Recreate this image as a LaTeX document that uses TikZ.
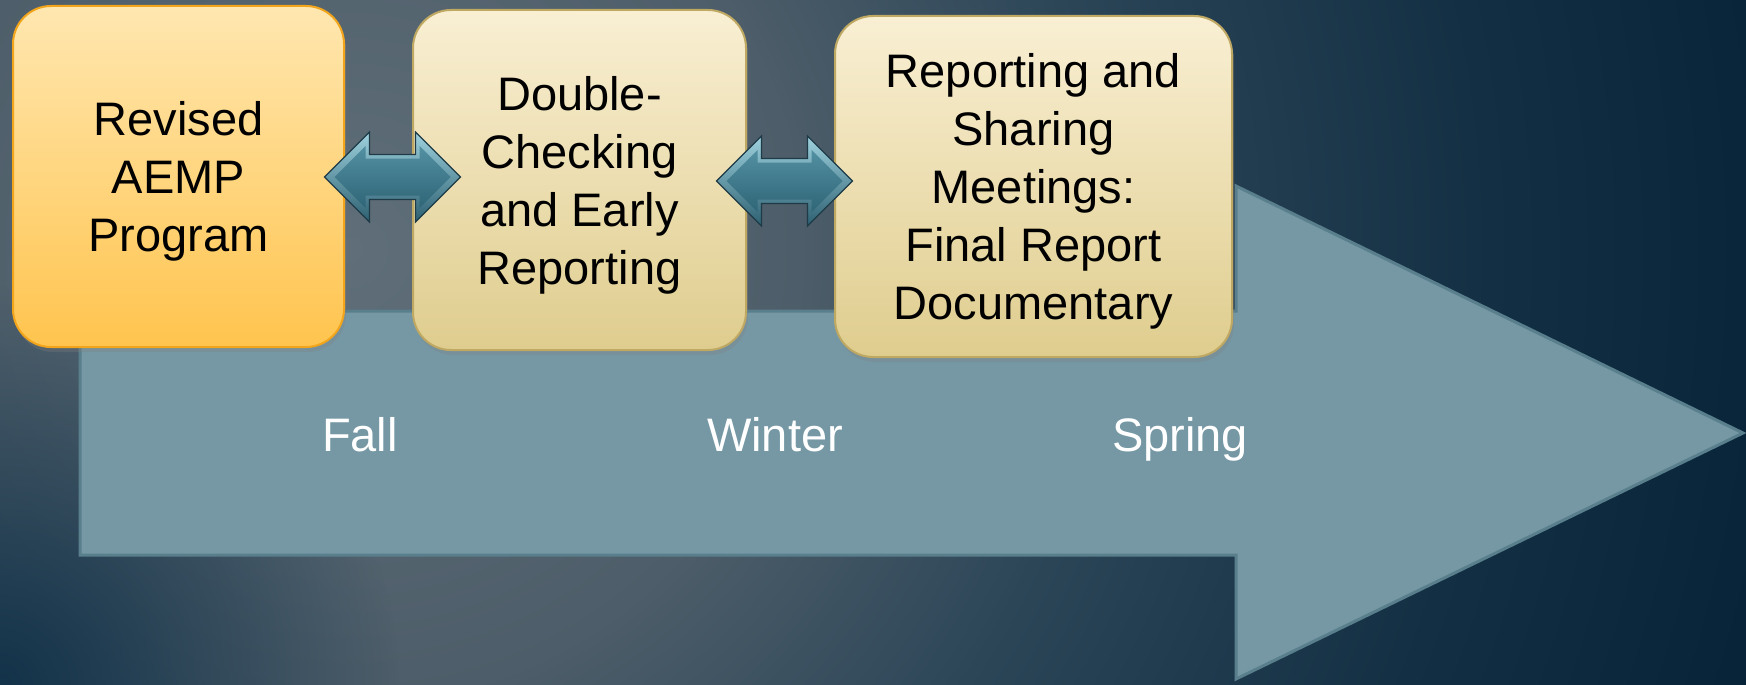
\documentclass[tikz,border=0pt]{standalone}
\usepackage{fontspec}
\setmainfont{Liberation Sans}
\usetikzlibrary{shadows,fadings}
\definecolor{bgA}{HTML}{5F6E78}
\definecolor{bgB}{HTML}{4D5D69}
\definecolor{bgC}{HTML}{2C4658}
\definecolor{bgD}{HTML}{132F43}
\definecolor{bgE}{HTML}{052237}
\definecolor{bgCorner}{HTML}{13334A}
\definecolor{bigFill}{HTML}{7598A4}
\definecolor{bigEdge}{HTML}{5A7F8C}
\definecolor{orTop}{HTML}{FFE7B0}
\definecolor{orBot}{HTML}{FFC44E}
\definecolor{orLine}{HTML}{F2A51A}
\definecolor{beTop}{HTML}{F9EFD3}
\definecolor{beBot}{HTML}{DFCD8E}
\definecolor{beLine}{HTML}{BFA862}
\definecolor{arHi}{HTML}{9FD2DE}
\definecolor{arLo}{HTML}{2C5F70}
\definecolor{arEdge}{HTML}{1E3B47}
\definecolor{arInTop}{HTML}{5290A2}
\definecolor{arInBot}{HTML}{2F6577}
\pgfdeclareradialshading{bgshade}{\pgfpoint{0bp}{0bp}}{color(0bp)=(bgA); color(7.5bp)=(bgB); color(12.5bp)=(bgC); color(19bp)=(bgD); color(25bp)=(bgE); color(50bp)=(bgE)}
\tikzfading[name=cornerfade, inner color=transparent!0, outer color=transparent!100]
\newcommand\boxstrut{\rule{0pt}{44pt}}
\tikzset{
  box/.style={rounded corners=38pt, align=center, inner sep=0pt,
    font={\fontsize{47}{58}\selectfont}, text=black, line width=2pt,
    drop shadow={opacity=0.3, shadow xshift=2pt, shadow yshift=-5pt}},
  orangebox/.style={box, draw=orLine, top color=orTop, bottom color=orBot},
  beigebox/.style={box, draw=beLine, top color=beTop, bottom color=beBot},
  season/.style={font={\fontsize{47}{58}\selectfont}, text=white, anchor=base, inner sep=0pt},
  bigarrow/.style={fill=bigFill, draw=bigEdge, line width=3pt, line join=miter},
  dblarrow/.pic={
    \shade[top color=arHi, bottom color=arLo, draw=arEdge, line width=1.2pt]
      (-68,0) -- (-23,-45) -- (-23,-22.5) -- (23,-22.5) -- (23,-45) -- (68,0)
      -- (23,45) -- (23,22.5) -- (-23,22.5) -- (-23,45) -- cycle;
    \shade[top color=arInTop, bottom color=arInBot]
      (-58,0) -- (-27,-31) -- (-27,-18.5) -- (27,-18.5) -- (27,-31) -- (58,0)
      -- (27,31) -- (27,18.5) -- (-27,18.5) -- (-27,31) -- cycle;
  }
}
\begin{document}
\begin{tikzpicture}[x=1pt,y=-1pt]
\useasboundingbox (0,0) rectangle (1746,685);
\begin{scope}
  \clip (0,0) rectangle (1746,685);
  \shade[shading=bgshade] (350,250) circle (1500);
  \fill[bgCorner, path fading=cornerfade] (0,685) circle (400);
\end{scope}
% big timeline arrow
\draw[bigarrow] (80,311) -- (1236,311) -- (1236,186) -- (1743,433)
  -- (1236,679) -- (1236,555) -- (80,555) -- cycle;
% seasons
\node[season] (fall) at (360,451) {Fall};
\node[season] (winter) at (775,451) {Winter};
\node[season] (spring) at (1180,451) {Spring};
% boxes
\node[orangebox, minimum width=331pt, minimum height=341pt] (b1) at (178.5,176.5)
  {\boxstrut Revised\\AEMP\\Program};
\node[beigebox, minimum width=333pt, minimum height=340pt] (b2) at (579.5,180)
  {\boxstrut Double-\\Checking\\and Early\\Reporting};
\node[beigebox, minimum width=397pt, minimum height=341pt] (b3) at (1033.5,186.5)
  {\boxstrut Reporting and\\Sharing\\Meetings:\\Final Report\\Documentary};
% double arrows between boxes
\coordinate (a12) at (392.5,177);
\coordinate (a23) at (784.5,181);
\pic at (a12) {dblarrow};
\pic at (a23) {dblarrow};
\end{tikzpicture}
\end{document}
